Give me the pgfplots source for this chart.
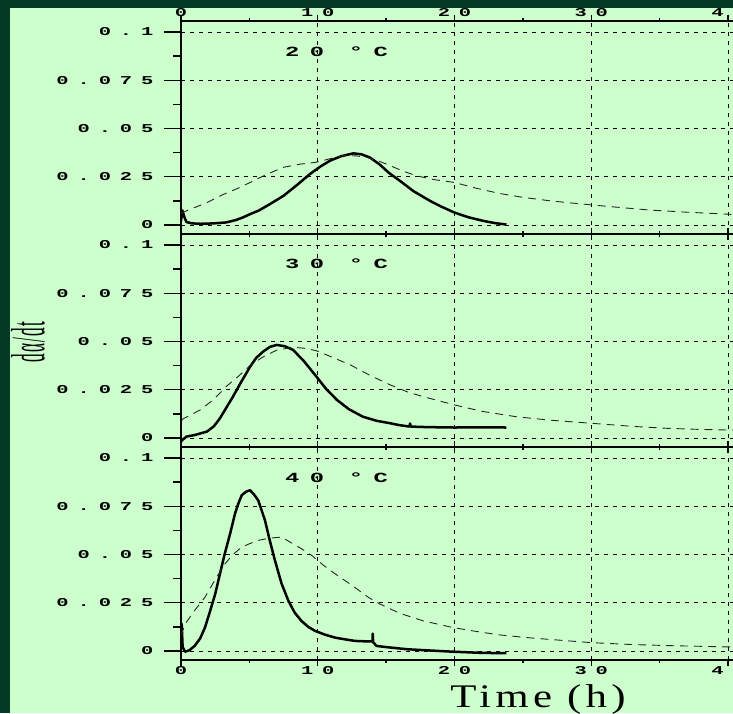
\documentclass[border=0pt]{standalone}
\usepackage{fontspec}
\usepackage{graphicx}
\usepackage{pgfplots}
\pgfplotsset{compat=1.18}
\setmainfont{Liberation Serif}
\newfontfamily\tickfont[LetterSpace=44]{Liberation Mono}
\newfontfamily\timefont[LetterSpace=10]{Liberation Serif}
\newfontfamily\ylabfont[LetterSpace=8]{Liberation Serif}
\definecolor{bgdark}{RGB}{4,58,36}
\definecolor{bglight}{RGB}{204,255,204}
\newcommand{\tk}[1]{\scalebox{1.7}[1]{\fontsize{12}{13}\tickfont\bfseries #1}}

\pgfplotsset{
  panel/.style={
    scale only axis, width=560.7pt, height=213pt,
    xmin=0, xmax=41, ymin=-0.0047, ymax=0.1057,
    xtick={0,10,20,30,40}, minor x tick num=1,
    ytick={0,0.025,0.05,0.075,0.1}, minor y tick num=1,
    yticklabels={\tk{0},\tk{0.025},\tk{0.05},\tk{0.075},\tk{0.1}},
    xticklabels={\tk{0},\tk{10},\tk{20},\tk{30},\tk{40}},
    scaled ticks=false,
    ytick pos=left,
    tick align=outside,
    major tick length=17pt, minor tick length=8pt,
    xtick style={/pgfplots/major tick length=6pt,/pgfplots/minor tick length=3pt},
    tick style={black, line width=1.4pt},
    axis line style={black, line width=2pt},
    grid=major,
    major grid style={black, line width=0.8pt, dash pattern=on 4pt off 5pt},
    tick label style={text=black},
    yticklabel style={xshift=-7pt},
    clip=true,
  },
  solidc/.style={black, line width=2.5pt, line join=round},
  dashc/.style={black!85, line width=0.9pt, dash pattern=on 8pt off 6pt},
}

\begin{document}
\begin{tikzpicture}
\useasboundingbox (0,0) rectangle (733pt,713pt);
\fill[bglight] (0,0) rectangle (733pt,713pt);
\begin{scope}
\clip (0,0) rectangle (733pt,713pt);

% 20 C
\begin{axis}[panel, at={(181pt,479pt)}, anchor=south west, xticklabel pos=upper,
  xticklabel style={yshift=-16pt}]
\addplot[solidc] coordinates {
(0,0.002) (0.1,0.0075) (0.25,0.004) (0.4,0.0015) (0.8,0.0008) (1.4,0.0006)
(2.0,0.0007) (2.6,0.0009) (3.3,0.0013) (4.0,0.0025) (4.5,0.0038) (5.05,0.0056)
(5.7,0.0075) (6.5,0.0108) (7.5,0.0151) (8.5,0.0208) (9.43,0.0264) (10.2,0.0303)
(10.9,0.0333) (11.7,0.0356) (12.6,0.0371) (13.2,0.0366) (13.8,0.035) (14.5,0.0315)
(15.2,0.027) (16.0,0.0229) (17.0,0.0175) (18.2,0.0125) (19.0,0.0096) (20.0,0.0064)
(21.0,0.0040) (22.1,0.0021) (23.0,0.0009) (23.8,0.0002)
};
\addplot[dashc] coordinates {
(0,0.006) (0.4,0.0073) (1.9,0.0116) (3.0,0.0155) (4.3,0.0194) (5.05,0.022)
(6.2,0.026) (7.5,0.0299) (8.7,0.0315) (9.9,0.0325) (11.0,0.0345) (11.9,0.036)
(12.8,0.0358) (13.6,0.035) (14.5,0.033) (15.3,0.0307) (16.2,0.028) (17.2,0.0255)
(18.5,0.0235) (20,0.022) (21.6,0.019) (23.3,0.0163) (25,0.0143) (27,0.0125)
(28.5,0.0114) (30,0.0104) (32,0.0091) (34.3,0.0077) (37,0.0066) (39.9,0.0056) (41,0.0052)
};
\end{axis}

% 30 C
\begin{axis}[panel, at={(181pt,266pt)}, anchor=south west, xticklabels={}]
\addplot[solidc] coordinates {
(0,-0.002) (0.1,-0.001) (0.4,0.0007) (1.0,0.0015) (1.9,0.0033) (2.4,0.006)
(2.85,0.0102) (3.3,0.0155) (3.8,0.0214) (4.4,0.029) (5.05,0.0369) (5.5,0.0415)
(6.0,0.0447) (6.5,0.0472) (7.0,0.0482) (7.6,0.0475) (8.2,0.0456) (9.0,0.0397)
(9.9,0.0318) (10.6,0.0255) (11.4,0.0197) (12.3,0.0148) (13.3,0.011) (14.3,0.0089)
(15.3,0.0076) (16.0,0.0066) (16.7,0.0059) (16.75,0.0075) (16.8,0.0059) (18,0.0056)
(20,0.0054) (22,0.0055) (23.8,0.0054)
};
\addplot[dashc] coordinates {
(0.05,0.009) (0.1,0.0097) (1.4,0.0145) (2.4,0.02) (3.3,0.0266) (4.2,0.032)
(5.05,0.0375) (6.0,0.042) (7.0,0.0455) (8.2,0.047) (9.0,0.0465) (9.9,0.0452)
(11.0,0.042) (12.4,0.0378) (13.8,0.0325) (15.3,0.0275) (16.5,0.024) (17.7,0.0214)
(20,0.0171) (22,0.0138) (24.5,0.011) (27,0.0092) (30,0.0076) (33,0.006)
(35.5,0.005) (38,0.0044) (40,0.0041) (41,0.004)
};
\end{axis}

% 40 C
\begin{axis}[panel, at={(181pt,53pt)}, anchor=south west, xticklabel pos=lower,
  xticklabel style={yshift=14pt}]
\addplot[solidc] coordinates {
(0,0.002) (0.05,0.014) (0.12,0.002) (0.3,-0.0004) (0.6,0.0003) (1.0,0.0026)
(1.4,0.0065) (1.75,0.0121) (2.1,0.02) (2.5,0.0295) (2.85,0.04) (3.2,0.0504)
(3.6,0.061) (3.95,0.0712) (4.2,0.0765) (4.44,0.0807) (4.75,0.0825) (5.05,0.0833)
(5.35,0.081) (5.65,0.078) (6.14,0.0677) (6.5,0.057) (6.87,0.0469) (7.35,0.035)
(7.85,0.026) (8.3,0.02) (8.8,0.0156) (9.3,0.0125) (9.8,0.0104) (10.5,0.0085)
(11.26,0.0069) (12.0,0.006) (12.7,0.0052) (13.4,0.005) (14.0,0.005) (14.02,0.009)
(14.05,0.0045) (14.3,0.0026) (15,0.002) (16.5,0.0009) (18,0.0003) (19.9,-0.0004)
(22,-0.001) (23.8,-0.0012)
};
\addplot[dashc] coordinates {
(0,0.008) (0.3,0.014) (1.0,0.021) (1.75,0.0278) (2.5,0.037) (3.2,0.045) (3.8,0.05)
(4.44,0.0538) (5.05,0.0557) (5.65,0.0573) (6.5,0.0585) (7.36,0.059) (8.1,0.0559)
(8.8,0.053) (9.56,0.0495) (10.4,0.0445) (11.26,0.04) (12.5,0.034) (13.7,0.0278)
(14.55,0.0243) (16,0.0195) (17.7,0.0156) (19.9,0.0121) (21.5,0.0102) (23.3,0.0083)
(25.8,0.0066) (28,0.0054) (30,0.0043) (33,0.0033) (36,0.0027) (39.9,0.0021) (41,0.002)
};
\end{axis}
\end{scope}

% panel titles and axis titles
\node[anchor=west, inner sep=0pt] at (285pt,661pt) {\scalebox{1.7}[1]{\fontsize{14}{15}\tickfont\bfseries 20 °C}};
\node[anchor=west, inner sep=0pt] at (285pt,449pt) {\scalebox{1.7}[1]{\fontsize{14}{15}\tickfont\bfseries 30 °C}};
\node[anchor=west, inner sep=0pt] at (285pt,235pt) {\scalebox{1.7}[1]{\fontsize{14}{15}\tickfont\bfseries 40 °C}};
\node[anchor=base, inner sep=0pt] at (538pt,6pt) {\scalebox{1.3}[1]{\fontsize{33}{36}\timefont Time (h)}};
\node[rotate=90, inner sep=0pt] at (28pt,371pt) {\scalebox{0.36}[1]{\fontsize{48}{50}\ylabfont dα/dt}};

% dark frame
\fill[bgdark] (0,0) rectangle (10pt,713pt);
\fill[bgdark] (0,705pt) rectangle (733pt,713pt);
\end{tikzpicture}
\end{document}
